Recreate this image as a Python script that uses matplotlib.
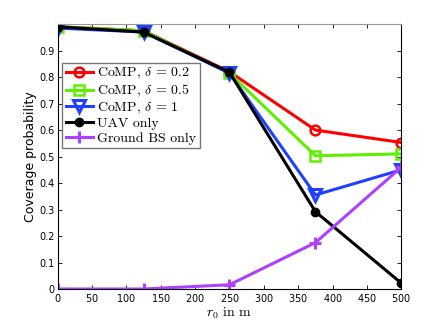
import matplotlib.pyplot as plt

r0 = [0, 125, 250, 375, 500]
comp_02 = [0.99, 0.975, 0.82, 0.60, 0.553]
comp_05 = [0.99, 0.975, 0.815, 0.503, 0.51]
comp_1 = [0.985, 0.97, 0.815, 0.355, 0.45]
uav_only = [0.99, 0.97, 0.818, 0.292, 0.022]
ground_only = [0.0, 0.0, 0.016, 0.175, 0.46]

plt.rcParams["mathtext.fontset"] = "cm"
plt.rcParams["axes.formatter.use_mathtext"] = True

fig = plt.figure(figsize=(4.43, 3.26), dpi=100)
ax = fig.add_axes([0.13, 0.1135, 0.776, 0.8125])

lw = 2.2
ax.plot(r0, comp_02, color="#ff0000", lw=lw, marker="o", ms=7, mfc="none", mew=1.8,
        label=r"CoMP, $\delta$ = 0.2")
ax.plot(r0, comp_05, color="#5ef000", lw=lw, marker="s", ms=6.5, mfc="none", mew=1.8,
        label=r"CoMP, $\delta$ = 0.5")
ax.plot(r0, comp_1, color="#2040ff", lw=lw, marker="v", ms=8, mfc="none", mew=2.2,
        label=r"CoMP, $\delta$ = 1")
ax.plot(r0, uav_only, color="black", lw=lw, marker="o", ms=6, label="UAV only")
ax.plot(r0, ground_only, color="#b040ff", lw=lw, marker="+", ms=8, mew=2.2,
        label="Ground BS only")

ax.set_xlim(0, 500)
ax.set_ylim(0, 1)
ax.set_xticks(range(0, 501, 50))
ax.set_yticks([0, 0.1, 0.2, 0.3, 0.4, 0.5, 0.6, 0.7, 0.8, 0.9])
ax.set_yticklabels(["0", "0.1", "0.2", "0.3", "0.4", "0.5", "0.6", "0.7", "0.8", "0.9"])
ax.tick_params(direction="in", top=True, right=True, labelsize=7, length=3, width=0.6, pad=2)
for s in ax.spines.values():
    s.set_linewidth(0.8)
ax.spines["top"].set_color("#999999")

ax.set_ylabel("Coverage probability", fontsize=9, labelpad=2)
ax.set_xlabel(r"$r_0$ in m", fontsize=10, family="cmr10", labelpad=1)

leg = ax.legend(loc="upper left", bbox_to_anchor=(0.013, 0.855),
                prop={"family": "cmr10", "size": 10}, frameon=True, fancybox=False,
                borderpad=0.25, labelspacing=0.12, handlelength=2.0, handletextpad=0.3,
                borderaxespad=0)
leg.get_frame().set_edgecolor("#555555")
leg.get_frame().set_linewidth(1.0)

fig.savefig("out.png", dpi=100)
